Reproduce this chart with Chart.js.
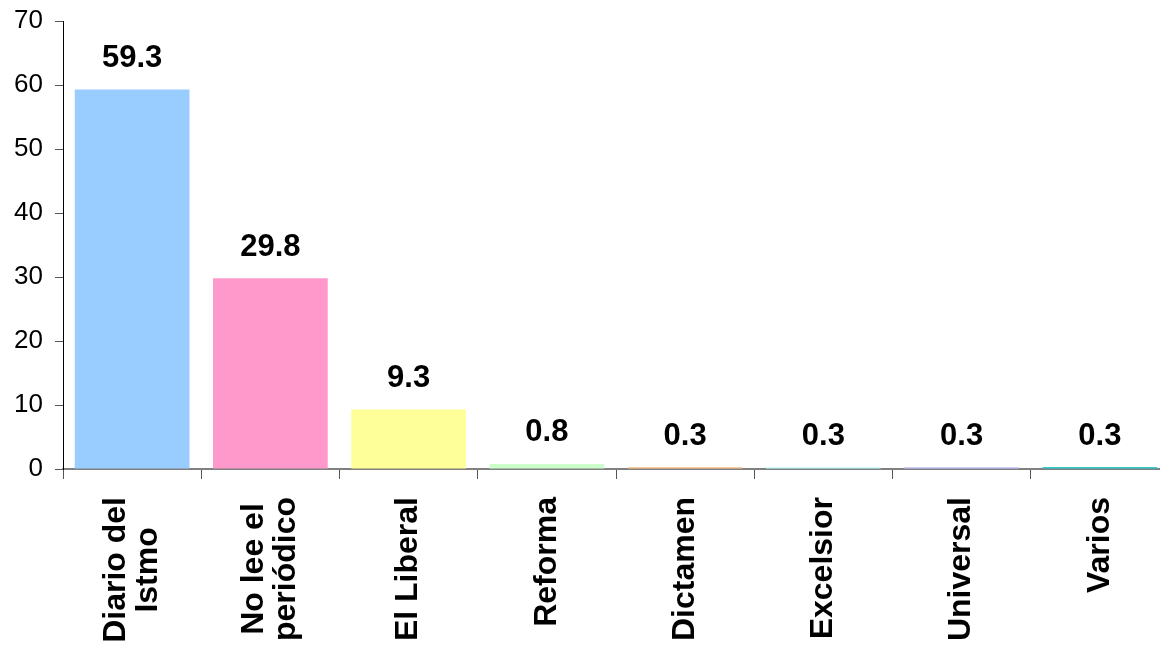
<!DOCTYPE html>
<html>
<head>
<meta charset="utf-8">
<script src="https://cdn.jsdelivr.net/npm/chart.js@4.4.0/dist/chart.umd.min.js"></script>
<style>
  html, body { margin: 0; padding: 0; background: #fff; overflow: hidden; }
  #wrap { width: 1170px; height: 645px; }
</style>
</head>
<body>
<div id="wrap"><canvas id="chart"></canvas></div>
<script>
const categories = [
  ["Diario del", "Istmo"],
  ["No lee el", "periódico"],
  ["El Liberal"],
  ["Reforma"],
  ["Dictamen"],
  ["Excelsior"],
  ["Universal"],
  ["Varios"]
];
const values = [59.3, 29.8, 9.3, 0.8, 0.3, 0.3, 0.3, 0.3];
const barColors = ["#99CCFF", "#FF99CC", "#FFFF99", "#CCFFCC", "#FFCC99", "#CCFFFF", "#CCCCFF", "#33CCCC"];
const yTicks = [0, 10, 20, 30, 40, 50, 60, 70];

const FONT = "'Liberation Sans', Arial, sans-serif";

// value over each bar + rotated category names (lines centred in their block)
const labelsPlugin = {
  id: "labelsPlugin",
  afterDatasetsDraw(chart) {
    const ctx = chart.ctx;
    const meta = chart.getDatasetMeta(0);
    ctx.save();
    ctx.fillStyle = "#000";
    ctx.font = "bold 31px " + FONT;
    ctx.textAlign = "center";
    ctx.textBaseline = "middle";
    meta.data.forEach(function (bar, i) {
      ctx.fillText(values[i].toFixed(1), bar.x, bar.y - 31);
    });

    const xScale = chart.scales.x;
    const top = xScale.top + 28;
    const lineGap = 32;
    ctx.font = "bold 32px " + FONT;
    categories.forEach(function (lines, i) {
      const x = xScale.getPixelForValue(i);
      let maxW = 0;
      lines.forEach(l => { maxW = Math.max(maxW, ctx.measureText(l).width); });
      const cy = top + maxW / 2;
      lines.forEach(function (l, j) {
        const lx = x + (j - (lines.length - 1) / 2) * lineGap;
        ctx.save();
        ctx.translate(lx, cy);
        ctx.rotate(-Math.PI / 2);
        ctx.fillText(l, 0, 0);
        ctx.restore();
      });
    });
    ctx.restore();
  }
};

const ctx = document.getElementById("chart").getContext("2d");
const myChart = new Chart(ctx, {
  type: "bar",
  data: {
    labels: categories.map(c => c.join(" ")),
    datasets: [{
      data: values,
      backgroundColor: barColors,
      borderWidth: 0,
      barPercentage: 0.83,
      categoryPercentage: 1
    }]
  },
  options: {
    responsive: true,
    maintainAspectRatio: false,
    animation: false,
    layout: { padding: { top: 21, right: 1, left: 0, bottom: 0 } },
    plugins: { legend: { display: false }, tooltip: { enabled: false } },
    scales: {
      x: {
        grid: { drawOnChartArea: false, offset: true, tickLength: 10, color: "#555" },
        border: { color: "#808080", width: 2 },
        ticks: { color: "rgba(0,0,0,0)", maxRotation: 0, autoSkip: false, font: { size: 1 } },
        afterFit(scale) { scale.height = 176; }
      },
      y: {
        min: 0,
        max: 70,
        afterBuildTicks(scale) { scale.ticks = yTicks.map(v => ({ value: v })); },
        grid: { drawOnChartArea: false, tickLength: 8, color: "#555" },
        border: { color: "#000", width: 1 },
        ticks: {
          color: "#000",
          padding: 12,
          font: { family: FONT, size: 26, lineHeight: 0.5 }
        },
        afterFit(scale) { scale.width = 63; }
      }
    }
  },
  plugins: [labelsPlugin]
});
</script>
</body>
</html>
